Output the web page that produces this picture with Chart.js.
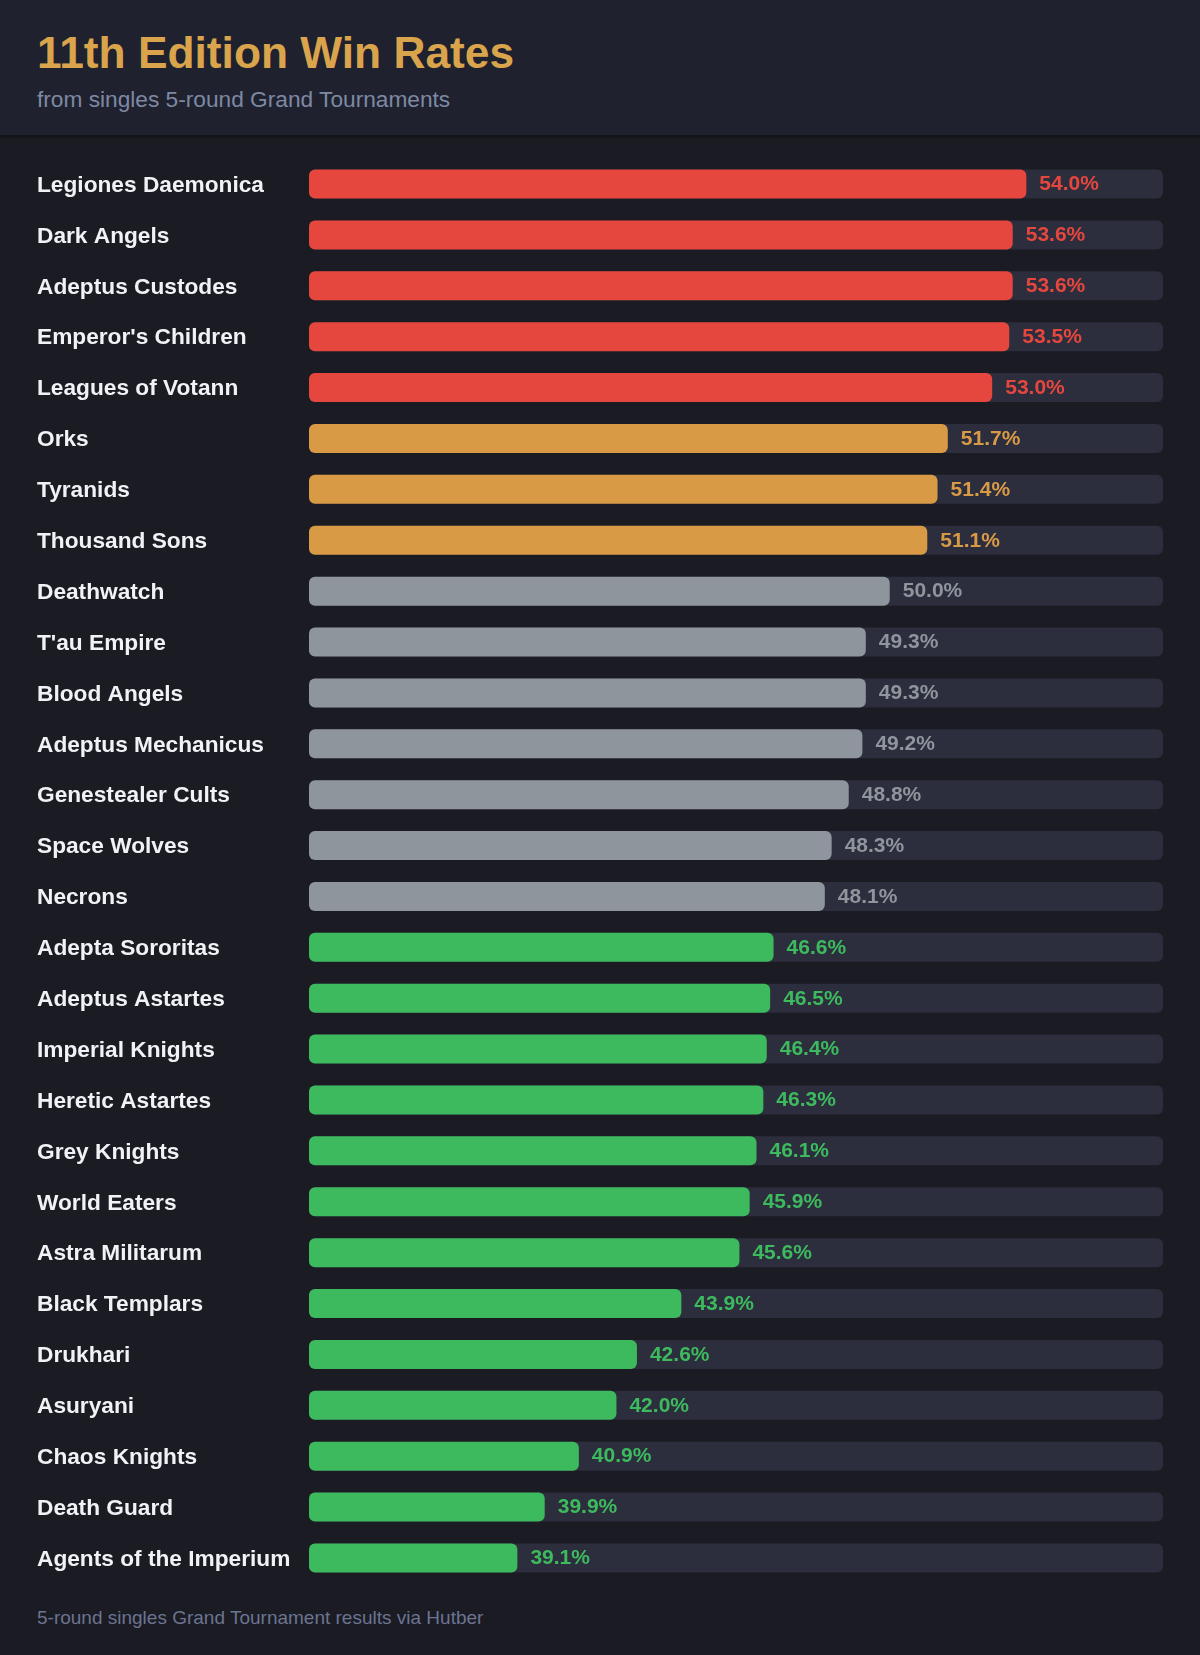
<!DOCTYPE html>
<html>
<head>
<meta charset="utf-8">
<script src="https://cdn.jsdelivr.net/npm/chart.js@4.4.1/dist/chart.umd.min.js"></script>
<style>
  html, body { margin: 0; padding: 0; background: #1b1b24; width: 1200px; height: 1655px; overflow: hidden; font-family: "Liberation Sans", Arial, sans-serif; }
  #header { position: absolute; left: 0; top: 0; width: 1200px; height: 135px; background: #20212f; border-bottom: 3px solid #13131a; }
  #title { position: absolute; left: 37px; top: 27px; margin: 0; font-size: 44.3px; font-weight: bold; color: #d9a44c; line-height: 52px; }
  #subtitle { position: absolute; left: 37px; top: 85px; margin: 0; font-size: 22.7px; color: #7d89a2; line-height: 28px; }
  #wrap { position: absolute; left: 0; top: 145px; width: 1200px; height: 1452px; }
  #footer { position: absolute; left: 37px; top: 1606px; font-size: 19px; color: #6b7490; line-height: 24px; }
</style>
</head>
<body>
<div id="header">
  <h1 id="title">11th Edition Win Rates</h1>
  <p id="subtitle">from singles 5-round Grand Tournaments</p>
</div>
<div id="wrap"><canvas id="c" width="1200" height="1452" style="width:1200px;height:1452px"></canvas></div>
<div id="footer">5-round singles Grand Tournament results via Hutber</div>
<script>
const factions = [
  "Legiones Daemonica", "Dark Angels", "Adeptus Custodes", "Emperor's Children", "Leagues of Votann",
  "Orks", "Tyranids", "Thousand Sons",
  "Deathwatch", "T'au Empire", "Blood Angels", "Adeptus Mechanicus", "Genestealer Cults", "Space Wolves", "Necrons",
  "Adepta Sororitas", "Adeptus Astartes", "Imperial Knights", "Heretic Astartes", "Grey Knights", "World Eaters",
  "Astra Militarum", "Black Templars", "Drukhari", "Asuryani", "Chaos Knights", "Death Guard", "Agents of the Imperium"
];
const winRates = [
  54.0, 53.6, 53.6, 53.5, 53.0,
  51.7, 51.4, 51.1,
  50.0, 49.3, 49.3, 49.2, 48.8, 48.3, 48.1,
  46.6, 46.5, 46.4, 46.3, 46.1, 45.9,
  45.6, 43.9, 42.6, 42.0, 40.9, 39.9, 39.1
];
const tiers = [
  "high", "high", "high", "high", "high",
  "mid", "mid", "mid",
  "even", "even", "even", "even", "even", "even", "even",
  "low", "low", "low", "low", "low", "low",
  "low", "low", "low", "low", "low", "low", "low"
];
const tierColors = { high: "#e5473f", mid: "#d99a46", even: "#8f959d", low: "#3dba5e" };
const axisMin = 33;
const axisMax = 58;

const barColors = tiers.map(t => tierColors[t]);

const trackPlugin = {
  id: 'track',
  beforeDatasetsDraw(chart) {
    const ctx = chart.ctx;
    const area = chart.chartArea;
    const meta = chart.getDatasetMeta(0);
    ctx.save();
    ctx.fillStyle = '#2c2d3d';
    meta.data.forEach(bar => {
      const h = bar.height;
      const y = bar.y - h / 2;
      ctx.beginPath();
      ctx.roundRect(area.left, y, area.right - area.left, h, 6);
      ctx.fill();
    });
    ctx.restore();
  }
};

const valuePlugin = {
  id: 'values',
  afterDatasetsDraw(chart) {
    const ctx = chart.ctx;
    const meta = chart.getDatasetMeta(0);
    ctx.save();
    ctx.font = 'bold 21px "Liberation Sans", Arial, sans-serif';
    ctx.textAlign = 'left';
    ctx.textBaseline = 'middle';
    meta.data.forEach((bar, i) => {
      ctx.fillStyle = barColors[i];
      ctx.fillText(winRates[i].toFixed(1) + '%', bar.x + 13, bar.y + 0.5);
    });
    ctx.restore();
  }
};

new Chart(document.getElementById('c'), {
  type: 'bar',
  data: {
    labels: factions,
    datasets: [{
      data: winRates,
      base: axisMin,
      backgroundColor: barColors,
      borderRadius: 6,
      borderSkipped: false,
      categoryPercentage: 1,
      barPercentage: 0.57
    }]
  },
  options: {
    indexAxis: 'y',
    responsive: false,
    animation: false,
    devicePixelRatio: 1,
    layout: { padding: { left: 37, right: 37, top: 0, bottom: 0 } },
    plugins: { legend: { display: false }, tooltip: { enabled: false } },
    scales: {
      x: { display: false, min: axisMin, max: axisMax, grid: { display: false } },
      y: {
        grid: { display: false },
        border: { display: false },
        ticks: {
          crossAlign: 'far',
          color: '#f1f2f6',
          padding: 0,
          labelOffset: 1.5,
          font: { family: '"Liberation Sans", Arial, sans-serif', size: 22.7, weight: 'bold' }
        },
        afterFit(scale) { scale.width = 272; }
      }
    }
  },
  plugins: [trackPlugin, valuePlugin]
});
</script>
</body>
</html>
